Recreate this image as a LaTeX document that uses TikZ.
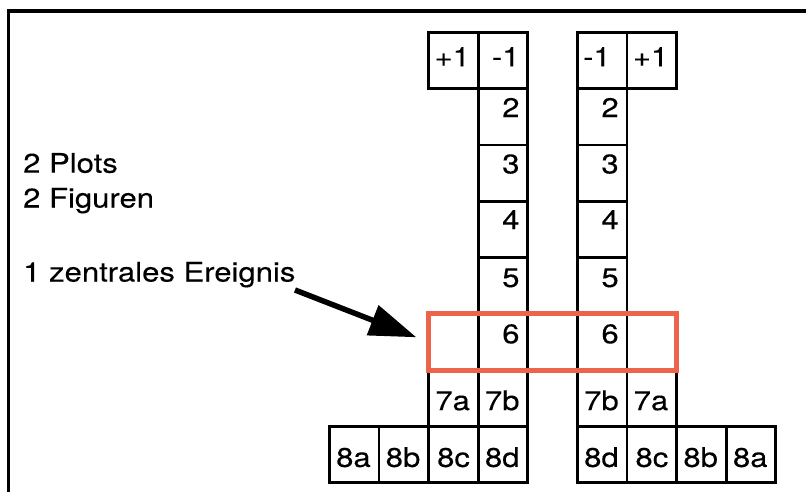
\documentclass[tikz,border=0pt]{standalone}
\usepackage{fontspec}
\setmainfont{TeX Gyre Heros}[FakeStretch=1.15,FakeBold=0.15]
\usetikzlibrary{arrows.meta}
\definecolor{hlred}{RGB}{238,100,74}

\tikzset{
  cellbox/.style={draw=black, line width=2.8pt, minimum width=49.6pt,
    minimum height=56.3pt, inner sep=0pt, outer sep=0pt, anchor=north west},
  celltext/.style={font=\fontsize{27}{31}\selectfont, inner sep=0pt, anchor=base east},
  sidetext/.style={font=\fontsize{27}{31}\selectfont, inner sep=0pt, anchor=base west},
  highlight/.style={draw=hlred, line width=4.8pt, minimum width=248pt,
    minimum height=56.3pt, inner sep=0pt, outer sep=0pt},
  bigarrow/.style={line width=5.5pt, -{Triangle[length=47pt,width=31pt]}},
  frameline/.style={line width=3.3pt},
}

% grid cell: [extra right padding]{name}{column}{row}{label}
\newcommand\gridcell[5][0]{%
  \pgfmathsetmacro\gcx{329.3+49.6*#3}%
  \pgfmathsetmacro\gcy{32.3+56.3*#4}%
  \pgfmathsetmacro\gby{\gcy+{34,28.5,28.5,28,29.5,29.5,40,40.5}[#4]}%
  \node[cellbox] (#2) at (\gcx,\gcy) {};
  \node[celltext] (#2-t) at (\gcx+49.6-8-#1,\gby) {#5};
}

\begin{document}
\begin{tikzpicture}[x=1pt,y=-1pt]
  \useasboundingbox (0,0) rectangle (806,491);
  \fill[white] (0,0) rectangle (806,491);

  % open frame: top and left edges only
  \draw[frameline] (8.3,495) -- (8.3,11) -- (810,11);

  % side notes
  \node[sidetext] (plots) at (23,172.7) {2 Plots};
  \node[sidetext] (figuren) at (23,207.5) {2 Figuren};
  \node[sidetext] (ereignis) at (23,281.5) {1 zentrales Ereignis};

  % left ladder
  \gridcell{lplus}{2}{0}{+1}
  \gridcell{lminus}{3}{0}{-1}
  \foreach \r/\t in {1/2,2/3,3/4,4/5,5/6}{\gridcell{l\t}{3}{\r}{\t}}
  \gridcell{l7a}{2}{6}{7a}
  \gridcell{l7b}{3}{6}{7b}
  \gridcell{l8a}{0}{7}{8a}
  \gridcell{l8b}{1}{7}{8b}
  \gridcell{l8c}{2}{7}{8c}
  \gridcell{l8d}{3}{7}{8d}

  % right ladder (mirrored)
  \gridcell[8]{rminus}{5}{0}{-1}
  \gridcell{rplus}{6}{0}{+1}
  \foreach \r/\t in {1/2,2/3,3/4,4/5,5/6}{\gridcell{r\t}{5}{\r}{\t}}
  \gridcell{r7b}{5}{6}{7b}
  \gridcell{r7a}{6}{6}{7a}
  \gridcell{r8d}{5}{7}{8d}
  \gridcell{r8c}{6}{7}{8c}
  \gridcell{r8b}{7}{7}{8b}
  \gridcell{r8a}{8}{7}{8a}

  % central event row
  \node[highlight] (hl) at (552.5,342) {};

  % pointer from the note to the central row
  \coordinate (tail) at (295,290);
  \draw[bigarrow, shorten >=13pt] (tail) -- (hl.west);
\end{tikzpicture}
\end{document}
